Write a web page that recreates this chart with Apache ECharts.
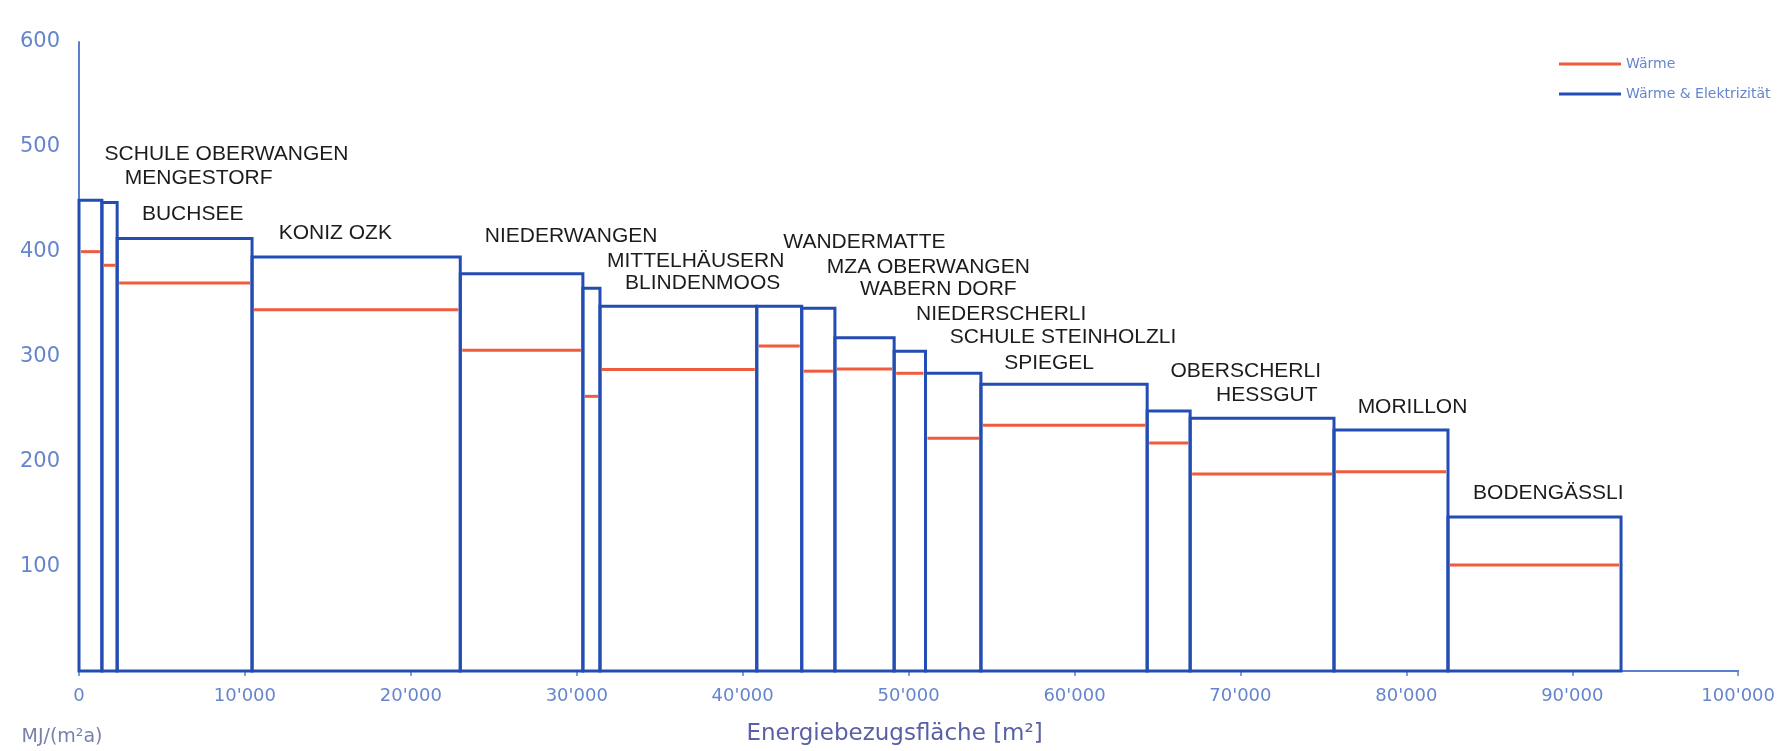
<!DOCTYPE html>
<html>
<head>
<meta charset="utf-8">
<script src="https://cdn.jsdelivr.net/npm/echarts@6/dist/echarts.min.js"></script>
<style>
  html, body { margin: 0; padding: 0; background: #ffffff; }
  #chart { width: 1778px; height: 751px; }
</style>
</head>
<body>
<div id="chart"></div>
<script>
// Buildings (in order along the x axis)
const buildings = [
  'SCHULE OBERWANGEN', 'MENGESTORF', 'BUCHSEE', 'KONIZ OZK', 'NIEDERWANGEN',
  'MITTELHÄUSERN', 'BLINDENMOOS', 'WANDERMATTE', 'MZA OBERWANGEN', 'WABERN DORF',
  'NIEDERSCHERLI', 'SCHULE STEINHOLZLI', 'SPIEGEL', 'OBERSCHERLI', 'HESSGUT',
  'MORILLON', 'BODENGÄSSLI'
];
// Energiebezugsfläche per building [m²]
const areas = [1380, 920, 8130, 12550, 7390, 1030, 9450, 2710, 2000, 3570, 1890, 3340, 10020, 2590, 8670, 6870, 10430];
// Wärme & Elektrizität [MJ/(m²a)]
const totalValues = [449, 447, 412.5, 395, 379, 365, 348, 348, 346, 318, 305, 284, 273.5, 248, 241, 230, 147];
// Wärme [MJ/(m²a)]
const heatValues = [400, 387, 370, 344.5, 306, 262, 287.5, 310, 286, 288, 284, 222, 234.5, 217.5, 188, 190, 101];
// Label anchor points (data coordinates: x in m², y in MJ/(m²a))
const labelX = [8890, 7210, 6850, 15450, 29660, 37170, 37590, 47340, 51190, 51790, 55580, 59310, 58470, 70320, 71590, 80370, 88560];
const labelY = [492.8, 470, 435.7, 417.5, 414.7, 390.8, 369.9, 409, 385, 364, 340, 318.4, 293.9, 286.3, 263.1, 252, 169.7];
// Axis ticks
const xTicks = { min: 0, max: 100000, interval: 10000 };
const yTicks = { min: 0, max: 600, interval: 100 };

// Cumulative edges
const edges = [0];
areas.forEach(a => edges.push(edges[edges.length - 1] + a));

const totalRows = totalValues.map((v, i) => [edges[i], edges[i + 1], v]);
const heatRows = heatValues.map((v, i) => [edges[i], edges[i + 1], v]);
const labelRows = buildings.map((n, i) => [labelX[i], labelY[i], i]);

const BLUE = '#234db3';
const RED = '#ef5b3d';
const AXIS = '#5b80cf';
const TICKTXT = '#6585cc';

function fmtThousands(v) {
  return String(v).replace(/\B(?=(\d{3})+(?!\d))/g, "'");
}

const chart = echarts.init(document.getElementById('chart'), null, { renderer: 'canvas' });
chart.setOption({
  backgroundColor: '#ffffff',
  animation: false,
  grid: { left: 79, right: 37, top: 42, bottom: 80, containLabel: false },
  legend: {
    orient: 'vertical',
    left: 1554,
    top: 52,
    itemWidth: 62,
    itemHeight: 3,
    itemGap: 16,
    selectedMode: false,
    textStyle: { fontFamily: 'DejaVu Sans', fontSize: 14, color: TICKTXT },
    data: [
      { name: 'Wärme', icon: 'rect', itemStyle: { color: RED } },
      { name: 'Wärme & Elektrizität', icon: 'rect', itemStyle: { color: BLUE } }
    ]
  },
  xAxis: {
    type: 'value',
    min: xTicks.min, max: xTicks.max, interval: xTicks.interval,
    name: 'Energiebezugsfläche [m²]',
    nameLocation: 'middle',
    nameGap: 52,
    nameTextStyle: { fontFamily: 'DejaVu Sans', fontSize: 23, color: '#5a60a6', padding: [0, 28, 0, 0] },
    axisLine: { show: true, lineStyle: { color: AXIS, width: 2 } },
    axisTick: { show: true, length: 5, lineStyle: { color: AXIS, width: 1.5 } },
    axisLabel: {
      margin: 16,
      fontFamily: 'DejaVu Sans', fontSize: 18, color: TICKTXT,
      formatter: fmtThousands
    },
    splitLine: { show: false }
  },
  yAxis: {
    type: 'value',
    min: yTicks.min, max: yTicks.max, interval: yTicks.interval,
    name: 'MJ/(m²a)',
    nameLocation: 'start',
    nameGap: 57,
    nameTextStyle: { fontFamily: 'DejaVu Sans', fontSize: 19, color: '#7a80ac', align: 'center', padding: [0, 34, 0, 0] },
    axisLine: { show: true, lineStyle: { color: AXIS, width: 2 } },
    axisTick: { show: false },
    axisLabel: {
      showMinLabel: false,
      margin: 19,
      fontFamily: 'DejaVu Sans', fontSize: 21, color: TICKTXT
    },
    splitLine: { show: false }
  },
  series: [
    {
      name: 'Wärme',
      type: 'custom',
      itemStyle: { color: RED },
      encode: { x: [0, 1], y: 2 },
      z: 3,
      silent: true,
      data: heatRows,
      renderItem: function (params, api) {
        const p0 = api.coord([api.value(0), api.value(2)]);
        const p1 = api.coord([api.value(1), api.value(2)]);
        return {
          type: 'line',
          shape: { x1: p0[0] + 2, y1: p0[1], x2: p1[0] - 2, y2: p1[1] },
          style: { stroke: RED, lineWidth: 3 }
        };
      }
    },
    {
      name: 'Wärme & Elektrizität',
      type: 'custom',
      itemStyle: { color: BLUE },
      encode: { x: [0, 1], y: 2 },
      z: 4,
      silent: true,
      data: totalRows,
      renderItem: function (params, api) {
        const p0 = api.coord([api.value(0), api.value(2)]);
        const p1 = api.coord([api.value(1), 0]);
        return {
          type: 'rect',
          shape: { x: p0[0], y: p0[1], width: p1[0] - p0[0], height: p1[1] - p0[1] },
          style: { fill: 'none', stroke: BLUE, lineWidth: 3, lineJoin: 'miter' }
        };
      }
    },
    {
      name: 'labels',
      type: 'custom',
      encode: { x: 0, y: 1 },
      z: 5,
      silent: true,
      data: labelRows,
      renderItem: function (params, api) {
        const p = api.coord([api.value(0), api.value(1)]);
        return {
          type: 'text',
          x: p[0], y: p[1],
          style: {
            text: buildings[api.value(2)],
            fontFamily: 'Liberation Sans, Arial, sans-serif',
            fontSize: 21,
            fill: '#1c1c1c',
            align: 'center',
            verticalAlign: 'middle'
          }
        };
      }
    }
  ]
});
</script>
</body>
</html>
